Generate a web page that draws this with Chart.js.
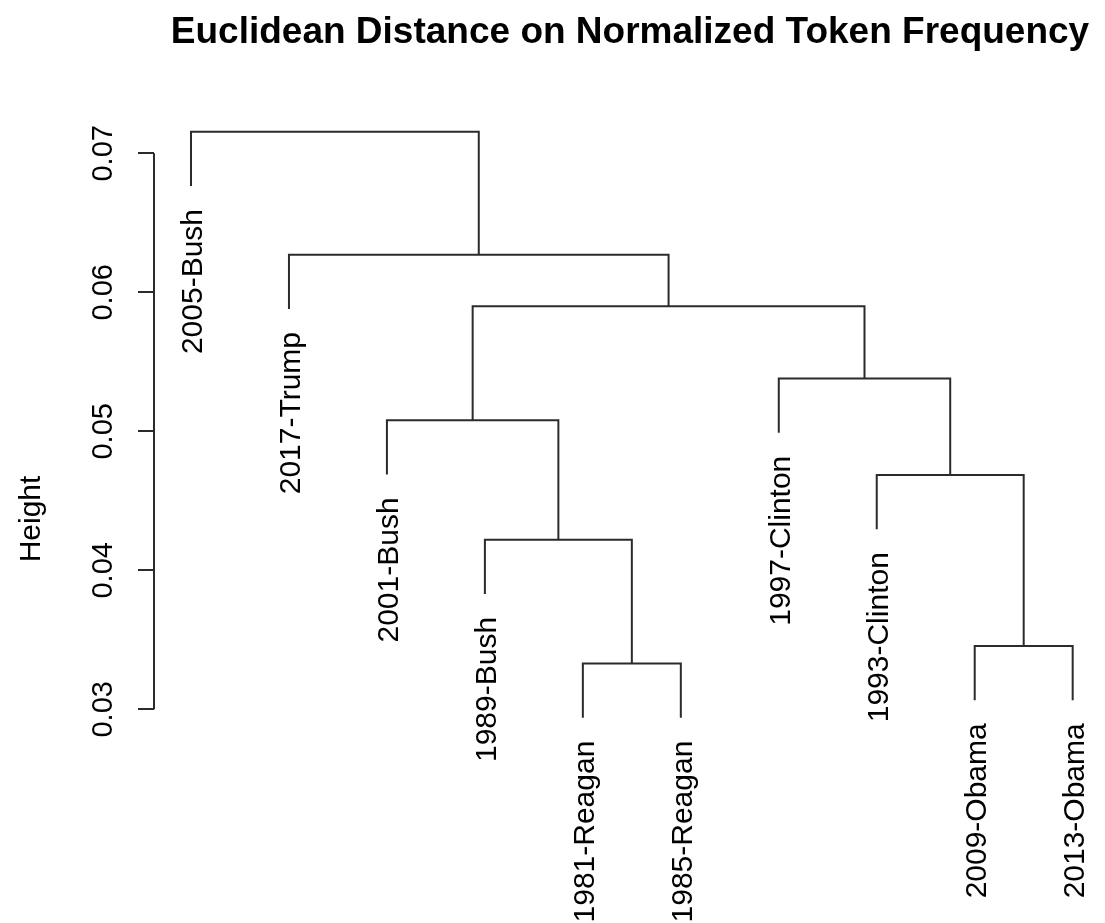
<!DOCTYPE html>
<html>
<head>
<meta charset="utf-8">
<title>Euclidean Distance on Normalized Token Frequency</title>
<script src="https://cdn.jsdelivr.net/npm/chart.js@4.4.1/dist/chart.umd.min.js"></script>
<style>
  html, body { margin: 0; padding: 0; background: #fff; }
  canvas { display: block; }
</style>
</head>
<body>
<canvas id="dendrogram" width="1105" height="923"></canvas>
<script>
// Inaugural speeches (leaf labels, data order)
const leafLabels = ['1981-Reagan', '1985-Reagan', '1989-Bush', '1993-Clinton', '1997-Clinton',
                    '2001-Bush', '2005-Bush', '2009-Obama', '2013-Obama', '2017-Trump'];
// left-to-right order of the leaves (1-based, like hclust$order)
const leafOrder = [7, 10, 6, 3, 1, 2, 5, 4, 8, 9];
// merge steps: negative = leaf, positive = earlier merge (like hclust$merge)
const mergeLeft  = [-1, -8, -3, -4, -6, -5, 5, -10, -7];
const mergeRight = [-2, -9,  1,  2,  3,  4, 6,   7,  8];
const mergeHeights = [0.0333, 0.03455, 0.0422, 0.04686, 0.0508, 0.0538, 0.0590, 0.0627, 0.07155];
const heightTicks = [0.03, 0.04, 0.05, 0.06, 0.07];

const chartTitle = 'Euclidean Distance on Normalized Token Frequency';
const yTitle = 'Height';
const HANG = 0.0039;   // how far leaves hang below their merge
const LINE_COLOR = '#2b2b2b';
const FONT = '"Liberation Sans", Arial, sans-serif';

// Turn the merge table into one bracket per merge
function buildDendrogram() {
    const leafX = {};
    leafOrder.forEach((leaf, i) => { leafX[leaf] = i + 1; });

    const nodes = [];
    const leafEnds = {};
    const child = (id, parentH) => {
        if (id < 0) {
            leafEnds[-id] = parentH - HANG;
            return { x: leafX[-id], y: parentH - HANG };
        }
        return nodes[id - 1];
    };

    const datasets = [];
    mergeHeights.forEach((h, k) => {
        const a = child(mergeLeft[k], h);
        const b = child(mergeRight[k], h);
        nodes.push({ x: (a.x + b.x) / 2, y: h });
        datasets.push({
            data: [
                { x: a.x, y: a.y },
                { x: a.x, y: h },
                { x: b.x, y: h },
                { x: b.x, y: b.y }
            ],
            showLine: true,
            borderColor: LINE_COLOR,
            borderWidth: 2,
            pointRadius: 0,
            tension: 0,
            fill: false
        });
    });
    return { datasets, leafX, leafEnds };
}

function rotatedText(ctx, text, x, y, align) {
    ctx.save();
    ctx.translate(x, y);
    ctx.rotate(-Math.PI / 2);
    ctx.textAlign = align;
    ctx.textBaseline = 'alphabetic';
    ctx.fillText(text, 0, 0);
    ctx.restore();
}

const dendro = buildDendrogram();

// Title, axis line, tick labels and leaf labels
const textPlugin = {
    id: 'dendroText',
    afterDraw(chart) {
        const { ctx, chartArea, scales } = chart;
        const xs = scales.x, ys = scales.y;
        ctx.save();
        ctx.fillStyle = '#000';

        ctx.font = 'bold 37px ' + FONT;
        ctx.textAlign = 'center';
        ctx.textBaseline = 'alphabetic';
        ctx.fillText(chartTitle, 630, 43);

        // axis line only spans the tick range
        ctx.strokeStyle = LINE_COLOR;
        ctx.lineWidth = 2;
        ctx.beginPath();
        ctx.moveTo(chartArea.left, ys.getPixelForValue(heightTicks[0]));
        ctx.lineTo(chartArea.left, ys.getPixelForValue(heightTicks[heightTicks.length - 1]));
        ctx.stroke();

        ctx.font = '29px ' + FONT;
        heightTicks.forEach(v => {
            rotatedText(ctx, v.toFixed(2), 112, ys.getPixelForValue(v), 'center');
        });
        ctx.font = '30px ' + FONT;
        rotatedText(ctx, yTitle, 40, 519, 'center');

        leafOrder.forEach(leaf => {
            const px = xs.getPixelForValue(dendro.leafX[leaf]);
            const py = ys.getPixelForValue(dendro.leafEnds[leaf]);
            rotatedText(ctx, leafLabels[leaf - 1], px + 11, py + 23, 'right');
        });
        ctx.restore();
    }
};

const ctx = document.getElementById('dendrogram').getContext('2d');
new Chart(ctx, {
    type: 'scatter',
    data: { datasets: dendro.datasets },
    options: {
        responsive: false,
        animation: false,
        layout: { padding: 0 },
        plugins: {
            legend: { display: false },
            tooltip: { enabled: false },
            title: { display: false }
        },
        scales: {
            x: {
                type: 'linear',
                display: false,
                min: 0.6223,
                max: 10.33
            },
            y: {
                type: 'linear',
                min: 0.014626,
                max: 0.081029,
                afterBuildTicks: scale => {
                    scale.ticks = heightTicks.map(v => ({ value: v }));
                },
                afterFit: scale => {
                    scale.width = 154;
                },
                ticks: { display: false },
                border: { display: false },
                grid: {
                    drawOnChartArea: false,
                    drawTicks: true,
                    tickLength: 16,
                    color: LINE_COLOR,
                    lineWidth: 2
                }
            }
        }
    },
    plugins: [textPlugin]
});
</script>
</body>
</html>
